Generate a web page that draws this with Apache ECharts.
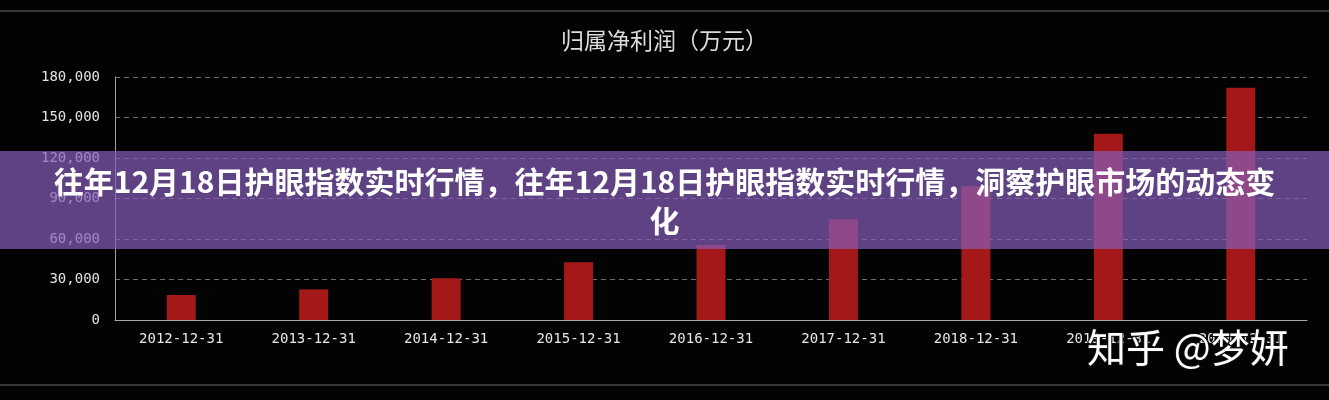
<!DOCTYPE html>
<html>
<head>
<meta charset="utf-8">
<script src="https://cdn.jsdelivr.net/npm/echarts@6/dist/echarts.min.js"></script>
<style>
html,body{margin:0;padding:0;background:#030303;}
#chart{width:1329px;height:400px;}
</style>
</head>
<body>
<div id="chart"></div>
<script>
const categories = ['2012-12-31','2013-12-31','2014-12-31','2015-12-31','2016-12-31','2017-12-31','2018-12-31','2019-12-31','2020-12-31'];
const netProfit = [18500, 22700, 30900, 42700, 55500, 74700, 99000, 138000, 172000];
const yTicks = {min: 0, max: 180000, interval: 30000};
const chartTitle = '归属净利润（万元）';
const bannerText = '往年12月18日护眼指数实时行情，往年12月18日护眼指数实时行情，洞察护眼市场的动态变\n化';
const watermark = '知乎 @梦妍';

const chart = echarts.init(document.getElementById('chart'));
const monoFont = '"DejaVu Sans Mono", monospace';
chart.setOption({
  backgroundColor: '#030303',
  animation: false,
  title: {
    text: chartTitle,
    left: 'center',
    top: 24,
    textStyle: {color: '#dcdcdc', fontSize: 23, fontWeight: 'normal', fontFamily: '"Noto Sans CJK SC", sans-serif'}
  },
  grid: {left: 115, right: 22, top: 77, bottom: 80},
  xAxis: {
    type: 'category',
    data: categories,
    axisLine: {show: true, lineStyle: {color: '#a8a8a8', width: 1}},
    axisTick: {show: false},
    axisLabel: {color: '#e6e6e6', fontSize: 14, fontFamily: monoFont, margin: 12}
  },
  yAxis: {
    type: 'value',
    min: yTicks.min,
    max: yTicks.max,
    interval: yTicks.interval,
    axisLine: {show: true, lineStyle: {color: '#a0a0a0', width: 1}},
    axisTick: {show: false},
    axisLabel: {color: '#e2e2e2', fontSize: 14, fontFamily: monoFont, margin: 15,
      formatter: v => v.toLocaleString('en-US')},
    splitLine: {show: true, lineStyle: {color: '#6e6e6e', type: [5, 4], width: 1}}
  },
  series: [{
    type: 'bar',
    data: netProfit,
    barWidth: 29,
    itemStyle: {color: '#a51818'}
  }],
  graphic: [
    {type: 'rect', z: 50, shape: {x: 0, y: 10, width: 1329, height: 2}, style: {fill: '#363636'}},
    {type: 'rect', z: 50, shape: {x: 0, y: 384, width: 1329, height: 2}, style: {fill: '#363636'}},
    {type: 'text', z: 60, x: 1087, y: 347,
      style: {text: watermark, fill: '#ffffff', stroke: '#111', lineWidth: 2,
        fontSize: 39, fontFamily: '"Noto Sans CJK SC", sans-serif', textVerticalAlign: 'middle'}},
    {type: 'rect', z: 100, shape: {x: 0, y: 151, width: 1329, height: 98},
      style: {fill: 'rgba(134,94,186,0.70)'}},
    {type: 'text', z: 101, x: 664.5, y: 201,
      style: {text: bannerText, fill: '#ffffff', fontSize: 30, fontWeight: 'bold', lineHeight: 39,
        fontFamily: '"Noto Sans CJK SC", sans-serif', textAlign: 'center', textVerticalAlign: 'middle',
        shadowColor: 'rgba(0,0,0,0.3)', shadowBlur: 3}}
  ]
});
</script>
</body>
</html>
